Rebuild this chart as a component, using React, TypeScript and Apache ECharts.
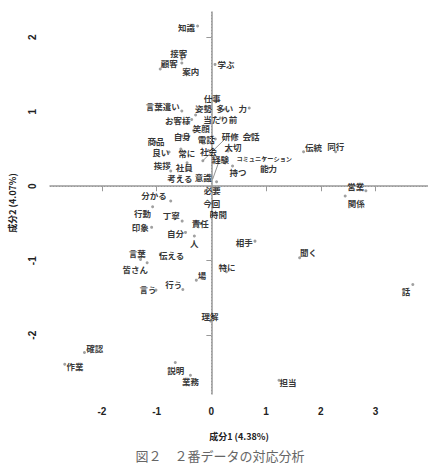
import React, { useEffect, useRef } from "react";
import * as echarts from "echarts";

// Words (correspondence analysis, 2 components)
const words = [
  "知識", "接客", "顧客", "案内", "学ぶ", "仕事", "姿勢", "多い", "力", "当たり前",
  "言葉遣い", "お客様", "笑顔", "自身", "電話", "研修", "会話", "商品", "良い", "常に",
  "社会", "大切", "経験", "持つ", "コミュニケーション", "能力", "挨拶", "社員", "考える", "意識",
  "必要", "伝統", "同行", "営業", "関係", "分かる", "行動", "丁寧", "今回", "時間",
  "責任", "印象", "自分", "人", "言葉", "皆さん", "伝える", "場", "特に", "行う",
  "言う", "相手", "聞く", "話", "理解", "確認", "作業", "説明", "業務", "担当",
];
const comp1 = [
  -0.252, -0.54, -0.935, -0.54, 0.067, 0.018, -0.288, 0.246, 0.692, 0.162,
  -0.54, -0.36, -0.324, -0.534, 0.072, -0.156, 0.725, -1.013, -0.773, -0.558,
  -0.054, 0.306, 0.252, 0.387, 0.966, 1.043, -0.743, -0.444, -0.576, 0.144,
  0.095, 1.685, 2.272, 2.824, 2.446, -0.743, -1.074, -0.534, 0.005, 0.0,
  -0.203, -1.092, -0.473, -0.311, -1.295, -1.174, -0.935, -0.275, 0.275, -0.522,
  -1.013, 0.797, 1.613, 3.682, -0.013, -2.32, -2.68, -0.66, -0.383, 1.236,
];
const comp2 = [
  2.153, 1.71, 1.575, 1.656, 1.636, 1.185, 0.957, 1.038, 1.051, 0.917,
  1.011, 0.897, 0.749, 0.675, 0.634, 0.343, 0.681, 0.594, 0.46, 0.5,
  0.48, 0.473, 0.312, 0.272, 0.372, 0.241, 0.204, 0.316, 0.124, 0.343,
  0.06, 0.464, 0.464, -0.06, -0.132, -0.199, -0.276, -0.468, -0.23, -0.394,
  -0.499, -0.552, -0.62, -0.669, -0.983, -1.028, -0.911, -1.261, -1.149, -1.386,
  -1.395, -0.737, -0.961, -1.319, -1.808, -2.233, -2.39, -2.367, -2.538, -2.605,
];
// label offsets (px) relative to the point
const labelOffsets: [number, number][] = [
  [-11, 1], [-3, -5.8], [9, -6], [9, 8], [11, 0], [0, 0], [8, -6.5], [0, -1], [-6.5, 0], [0, 1],
  [-19, -5], [-14, 0.5], [7.5, -2.3], [0, 0], [-9, 0], [27.4, -25.2], [0, 0], [0, -1], [-8.3, -0.3], [6, 4],
  [0, 0], [5, -4.5], [-4.7, -4], [5.5, 6], [0, 0], [0, 0], [-8.4, -6], [-2.8, 4.3], [0, 1], [-16, 16.3],
  [-4.3, 7.8], [10, -5], [0, -5.7], [-10, -5], [11, 7.3], [-16.7, -6], [-10, 6.6], [-11, -6], [0, 0], [7, -2],
  [0, 0], [-11.3, 0], [-10, 1], [0, 7.3], [-3.3, -6], [-12, 6.6], [11.3, 1], [5.6, -5], [0.7, -5], [-9, -5.3],
  [-8, -1], [-10.6, 0.7], [9, -5.4], [-6.7, 6.4], [-0.6, -4.7], [10.3, -5], [10.3, 1.3], [0.4, 7.7], [0, 5.7], [9, 1.5],
];
// leader lines (data coords)
const leaders: [number, number, number, number][] = [
  [-0.156, 0.343, 0.23, 0.621],
  [0.144, 0.343, 0.023, 0.093],
];
const xTicks = [-2, -1, 0, 1, 2, 3];
const yTicks = [-2, -1, 0, 1, 2];
const xName = "成分1 (4.38%)";
const yName = "成分2 (4.07%)";
const caption = "図２　２番データの対応分析";

export default function App() {
  const ref = useRef<HTMLDivElement>(null);
  useEffect(() => {
    if (!ref.current) return;
    const chart = echarts.init(ref.current, null, { renderer: "svg" });
    const labelFont = "'Noto Sans CJK JP', sans-serif";
    const data = words.map((w, i) => ({
      name: w,
      value: [comp1[i], comp2[i]],
      label: {
        offset: labelOffsets[i],
        fontSize: w.length > 6 ? 6.2 : 8.5,
        lineHeight: w.length > 6 ? 7 : 9,
      },
    }));
    const axisFont = { fontFamily: "'Liberation Sans', Arial, sans-serif", fontWeight: "bold" as const, fontSize: 10, color: "#222" };
    chart.setOption({
      animation: false,
      backgroundColor: "#fff",
      grid: { left: 44, right: 0, top: 12, bottom: 74 },
      xAxis: {
        type: "value",
        min: -2.95,
        max: 3.96,
        splitLine: { show: false },
        axisLine: { show: true, lineStyle: { color: "#999", width: 1.5 } },
        axisTick: { show: true, customValues: xTicks, length: 5, lineStyle: { color: "#999" } },
        axisLabel: { customValues: xTicks, margin: 12, ...axisFont },
        name: xName,
        nameLocation: "middle",
        nameGap: 38,
        nameTextStyle: { ...axisFont, fontSize: 9, fontFamily: labelFont },
      },
      yAxis: {
        type: "value",
        min: -2.79,
        max: 2.34,
        splitLine: { show: false },
        axisLine: { show: true, lineStyle: { color: "#999", width: 1.5 } },
        axisTick: { show: true, customValues: yTicks, length: 5, lineStyle: { color: "#999" } },
        axisLabel: { customValues: yTicks, rotate: 90, margin: 13, ...axisFont },
        name: yName,
        nameLocation: "middle",
        nameGap: 33,
        nameRotate: 90,
        nameTextStyle: { ...axisFont, fontSize: 9, fontFamily: labelFont },
      },
      series: [
        {
          type: "scatter",
          symbolSize: 3,
          itemStyle: { color: "#888" },
          data,
          label: {
            show: true,
            formatter: "{b}",
            position: "inside",
            align: "center",
            verticalAlign: "middle",
            fontFamily: labelFont,
            fontWeight: "bold",
            color: "#000",
          },
          markLine: {
            silent: true,
            symbol: "none",
            label: { show: false },
            lineStyle: { type: [1, 2], color: "#999", width: 1 },
            data: [{ xAxis: 0 }, { yAxis: 0 }],
          },
        },
        {
          type: "lines",
          coordinateSystem: "cartesian2d",
          silent: true,
          lineStyle: { color: "#777", width: 0.8, opacity: 1 },
          data: leaders.map((l) => ({ coords: [[l[0], l[1]], [l[2], l[3]]] })),
        },
      ],
      graphic: [
        {
          type: "text",
          x: 220,
          y: 455,
          style: {
            text: caption,
            fontSize: 13,
            fill: "#666",
            fontFamily: "'Noto Sans CJK JP', serif",
            align: "center",
            verticalAlign: "middle",
          },
        },
      ],
    });
    return () => chart.dispose();
  }, []);
  return <div ref={ref} style={{ position: "fixed", left: 0, top: 0, width: 428, height: 468 }} />;
}
